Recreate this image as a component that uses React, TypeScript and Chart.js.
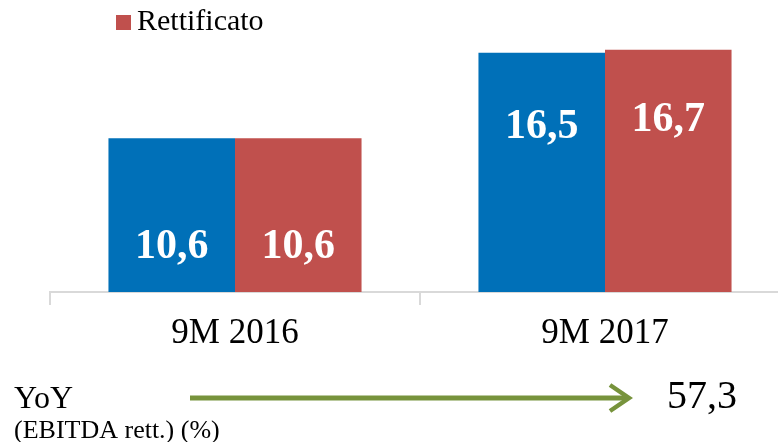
import React, { useEffect, useRef } from "react";
import { Chart, registerables } from "chart.js";

Chart.register(...registerables);

const categories = ["9M 2016", "9M 2017"];
const seriesNames = ["Riportato", "Rettificato"];
const reportedValues = [10.6, 16.5];
const adjustedValues = [10.6, 16.7];
const yoyLabel = "YoY";
const yoySubLabel = "(EBITDA rett.) (%)";
const yoyValue = "57,3";

const BLUE = "#0070B8";
const RED = "#C0504D";
const GREEN = "#77933C";
const FONT = "'Liberation Serif', 'Times New Roman', serif";

const fmt = (v: number) => v.toFixed(1).replace(".", ",");

// label centre offsets (px) below each bar's top: [dataset][category]
const labelOffsets = [
  [109, 74],
  [109, 70],
];

export default function App() {
  const ref = useRef<HTMLCanvasElement | null>(null);

  useEffect(() => {
    if (!ref.current) return;

    const extras = {
      id: "extras",
      afterDatasetsDraw(chart: any) {
        const ctx = chart.ctx;
        ctx.save();
        ctx.fillStyle = "#ffffff";
        ctx.font = `bold 42px ${FONT}`;
        ctx.textAlign = "center";
        ctx.textBaseline = "middle";
        chart.data.datasets.forEach((ds: any, di: number) => {
          const meta = chart.getDatasetMeta(di);
          meta.data.forEach((bar: any, i: number) => {
            ctx.fillText(fmt(ds.data[i]), bar.x, bar.y + labelOffsets[di][i]);
          });
        });
        ctx.restore();
      },
      afterDraw(chart: any) {
        const ctx = chart.ctx;
        ctx.save();
        // legend (only the adjusted series is visible)
        ctx.fillStyle = RED;
        ctx.fillRect(116, 15, 15, 15);
        ctx.fillStyle = "#000";
        ctx.font = `30px ${FONT}`;
        ctx.textAlign = "left";
        ctx.textBaseline = "middle";
        ctx.fillText(seriesNames[1], 137, 22);

        // YoY row
        ctx.textBaseline = "alphabetic";
        ctx.font = `32px ${FONT}`;
        ctx.fillText(yoyLabel, 14, 408);
        ctx.font = `26px ${FONT}`;
        ctx.fillText(yoySubLabel, 14, 438);
        ctx.font = `40px ${FONT}`;
        ctx.fillText(yoyValue, 667, 408);

        // arrow
        ctx.strokeStyle = GREEN;
        ctx.lineWidth = 5;
        ctx.lineCap = "butt";
        ctx.beginPath();
        ctx.moveTo(190, 398);
        ctx.lineTo(628, 398);
        ctx.stroke();
        ctx.lineWidth = 4.5;
        ctx.beginPath();
        ctx.moveTo(610, 385);
        ctx.lineTo(629, 398);
        ctx.lineTo(610, 411);
        ctx.stroke();
        ctx.restore();
      },
    };

    const chart = new Chart(ref.current, {
      type: "bar",
      data: {
        labels: categories,
        datasets: [
          {
            label: seriesNames[0],
            data: reportedValues,
            backgroundColor: BLUE,
            categoryPercentage: 0.684,
            barPercentage: 1,
          },
          {
            label: seriesNames[1],
            data: adjustedValues,
            backgroundColor: RED,
            categoryPercentage: 0.684,
            barPercentage: 1,
          },
        ],
      },
      options: {
        responsive: false,
        animation: false,
        layout: { padding: { left: 50, right: 10, top: 31, bottom: 80 } },
        plugins: {
          legend: { display: false },
          tooltip: { enabled: false },
        },
        scales: {
          x: {
            afterFit: (scale: any) => {
              scale.height = 70;
            },
            grid: {
              drawOnChartArea: false,
              drawTicks: true,
              tickLength: 13,
              color: "#d9d9d9",
              lineWidth: 2,
            },
            border: { display: true, color: "#d9d9d9", width: 2 },
            ticks: {
              color: "#000",
              font: { family: FONT, size: 35 },
              padding: 8,
              maxRotation: 0,
            },
          },
          y: {
            display: false,
            min: 0,
            max: 18,
          },
        },
      },
      plugins: [extras],
    });

    return () => chart.destroy();
  }, []);

  return (
    <div
      style={{
        position: "absolute",
        left: 0,
        top: 0,
        width: 778,
        height: 442,
        overflow: "hidden",
        background: "#fff",
      }}
    >
      <canvas ref={ref} width={800} height={442} style={{ display: "block" }} />
    </div>
  );
}
